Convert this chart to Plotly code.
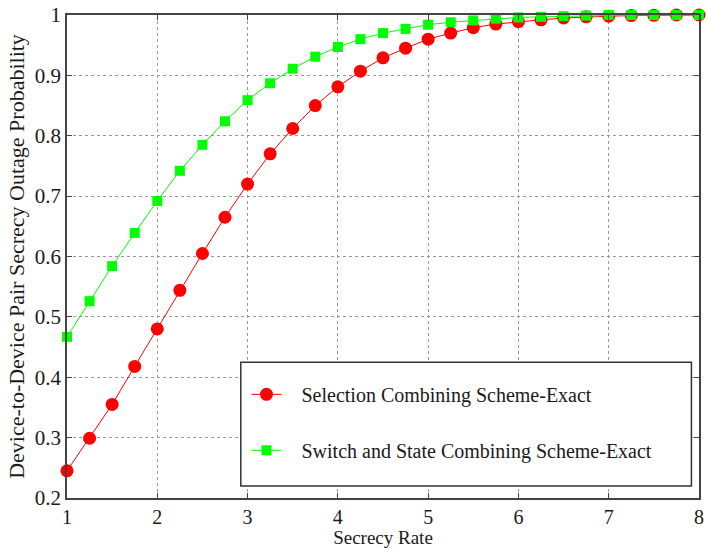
import plotly.graph_objects as go

secrecy_rate = [1, 1.25, 1.5, 1.75, 2, 2.25, 2.5, 2.75, 3, 3.25, 3.5, 3.75, 4, 4.25, 4.5,
                4.75, 5, 5.25, 5.5, 5.75, 6, 6.25, 6.5, 6.75, 7, 7.25, 7.5, 7.75, 8]
selection_exact = [0.245, 0.299, 0.355, 0.418, 0.480, 0.544, 0.605, 0.665, 0.720, 0.770,
                   0.812, 0.850, 0.881, 0.907, 0.929, 0.945, 0.960, 0.970, 0.979, 0.985,
                   0.989, 0.992, 0.995, 0.997, 0.998, 0.999, 0.9995, 1.0, 1.0]
switch_state_exact = [0.467, 0.526, 0.584, 0.639, 0.692, 0.742, 0.785, 0.824, 0.859, 0.887,
                      0.911, 0.931, 0.947, 0.960, 0.970, 0.977, 0.984, 0.988, 0.991, 0.994,
                      0.996, 0.997, 0.998, 0.999, 1.0, 1.0, 1.0, 1.0, 1.0]
y_ticks = [0.2, 0.3, 0.4, 0.5, 0.6, 0.7, 0.8, 0.9, 1.0]
y_tick_labels = ["0.2", "0.3", "0.4", "0.5", "0.6", "0.7", "0.8", "0.9", "1"]
x_ticks = [1, 2, 3, 4, 5, 6, 7, 8]

font_family = "Liberation Serif, Times New Roman, serif"
text_color = "#1a1a1a"
pad = "\u00a0\u00a0\u00a0"

fig = go.Figure()
fig.add_trace(go.Scatter(
    x=secrecy_rate, y=selection_exact, mode="lines+markers",
    name=pad + "Selection Combining Scheme-Exact",
    line=dict(color="#ff0000", width=1),
    marker=dict(symbol="circle", size=13, color="#ff0000"),
    cliponaxis=False, legendgroup="a"))
fig.add_trace(go.Scatter(
    x=secrecy_rate, y=switch_state_exact, mode="lines+markers",
    name=pad + "Switch and State Combining Scheme-Exact",
    line=dict(color="#00ff00", width=1),
    marker=dict(symbol="square", size=10, color="#00ff00"),
    cliponaxis=False, legendgroup="b"))

axis_common = dict(showline=True, mirror="allticks", linecolor="#444444", linewidth=1.5,
                   ticks="inside", ticklen=5, tickcolor="#444444",
                   showgrid=True, gridcolor="#999999", griddash="dot", gridwidth=1,
                   zeroline=False)

fig.update_xaxes(range=[1, 8], tickvals=x_ticks, ticklabeloverflow="allow",
                 tickfont=dict(family=font_family, size=20, color=text_color),
                 title=dict(text="Secrecy Rate", font=dict(family=font_family, size=19, color=text_color), standoff=3),
                 **axis_common)
fig.update_yaxes(range=[0.2, 1.0], tickvals=y_ticks, ticktext=y_tick_labels,
                 tickfont=dict(family=font_family, size=21, color=text_color),
                 title=dict(text="Device-to-Device Pair Secrecy Outage Probability",
                            font=dict(family=font_family, size=22, color=text_color), standoff=4),
                 **axis_common)

# legend frame
fig.add_shape(type="rect", xref="paper", yref="paper",
              x0=0.275, x1=0.988, y0=0.025, y1=0.281,
              line=dict(color="#333333", width=1.5), fillcolor="white", layer="above")

fig.update_layout(
    width=707, height=548,
    margin=dict(l=67, r=3, t=14, b=50),
    plot_bgcolor="white", paper_bgcolor="white",
    font=dict(family=font_family),
    legend=dict(x=0.284, y=0.255, xanchor="left", yanchor="top",
                bgcolor="rgba(0,0,0,0)", borderwidth=0,
                traceorder="grouped", tracegroupgap=27,
                font=dict(family=font_family, size=20, color=text_color)),
    showlegend=True,
)

fig.write_html("out.html")
